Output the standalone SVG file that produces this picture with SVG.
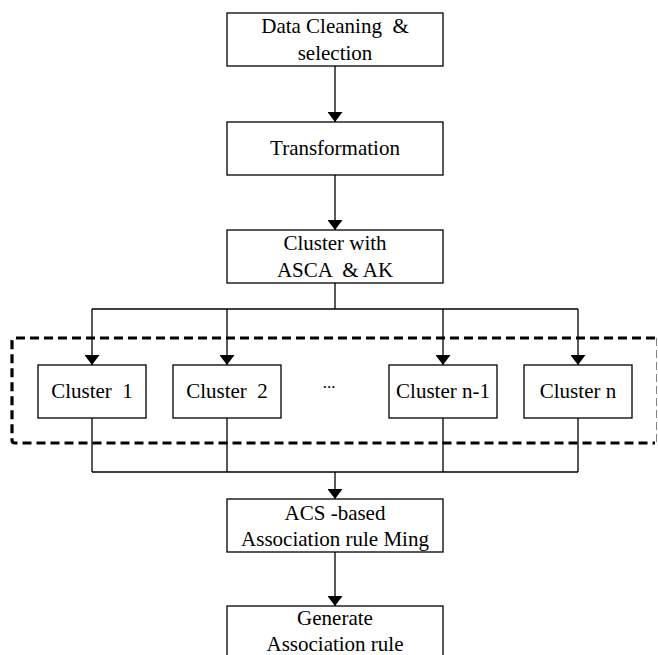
<svg xmlns="http://www.w3.org/2000/svg" width="658" height="655" viewBox="0 0 658 655">
<style>
.box{fill:#fff;stroke:#000;stroke-width:1.3}
.t{font-family:"Liberation Serif","Times New Roman",serif;font-size:21px;fill:#000;text-anchor:middle;white-space:pre}
.ln{fill:none;stroke:#000;stroke-width:1.3}
</style>
<defs>
<marker id="ah" viewBox="0 0 10 15" refX="10" refY="7.5" markerWidth="10" markerHeight="15" markerUnits="userSpaceOnUse" orient="auto">
<path d="M0,0 L10,7.5 L0,15 Z" fill="#000"/>
</marker>
</defs>
<rect width="658" height="655" fill="#fff"/>
<g id="group-frame">
<path d="M655,338 L15,338 Q12,338 12,341 L12,440 Q12,443 15,443 L655,443" fill="none" stroke="#000" stroke-width="3.2" stroke-dasharray="9,5"/>
<path d="M656.5,338 L656.5,443" fill="none" stroke="#888" stroke-width="1" stroke-dasharray="8,4"/>
</g>
<g id="connectors">
<path class="ln" d="M335,66 L335,122" marker-end="url(#ah)"/>
<path class="ln" d="M335,175 L335,230" marker-end="url(#ah)"/>
<path class="ln" d="M335,283 L335,309 M92,309 L578,309"/>
<path class="ln" d="M92,309 L92,365" marker-end="url(#ah)"/>
<path class="ln" d="M227,309 L227,365" marker-end="url(#ah)"/>
<path class="ln" d="M443,309 L443,365" marker-end="url(#ah)"/>
<path class="ln" d="M578,309 L578,365" marker-end="url(#ah)"/>
<path class="ln" d="M92,418 L92,472 M227,418 L227,472 M443,418 L443,472 M578,418 L578,472 M92,472 L578,472"/>
<path class="ln" d="M335,472 L335,499" marker-end="url(#ah)"/>
<path class="ln" d="M335,552 L335,606" marker-end="url(#ah)"/>
</g>
<g id="n-clean">
<rect class="box" x="227" y="13" width="216" height="53"/>
<text class="t" x="335" y="33">Data Cleaning  &amp;</text>
<text class="t" x="335" y="60">selection</text>
</g>
<g id="n-transform">
<rect class="box" x="227" y="122" width="216" height="53"/>
<text class="t" x="335" y="155">Transformation</text>
</g>
<g id="n-cluster">
<rect class="box" x="227" y="230" width="216" height="53"/>
<text class="t" x="335" y="250">Cluster with</text>
<text class="t" x="335" y="277">ASCA  &amp; AK</text>
</g>
<g id="n-c1">
<rect class="box" x="38" y="365" width="108" height="53"/>
<text class="t" x="92" y="398">Cluster  1</text>
</g>
<g id="n-c2">
<rect class="box" x="173" y="365" width="108" height="53"/>
<text class="t" x="227" y="398">Cluster  2</text>
</g>
<g id="n-dots">
<text class="t" x="329" y="388" style="font-size:17px">...</text>
</g>
<g id="n-cn1">
<rect class="box" x="389" y="365" width="108" height="53"/>
<text class="t" x="443" y="398">Cluster n-1</text>
</g>
<g id="n-cn">
<rect class="box" x="524" y="365" width="108" height="53"/>
<text class="t" x="578" y="398">Cluster n</text>
</g>
<g id="n-acs">
<rect class="box" x="227" y="499" width="216" height="53"/>
<text class="t" x="335" y="520">ACS -based</text>
<text class="t" x="335" y="546">Association rule Ming</text>
</g>
<g id="n-gen">
<rect class="box" x="227" y="606" width="216" height="60"/>
<text class="t" x="335" y="625">Generate</text>
<text class="t" x="335" y="651">Association rule</text>
</g>
</svg>
